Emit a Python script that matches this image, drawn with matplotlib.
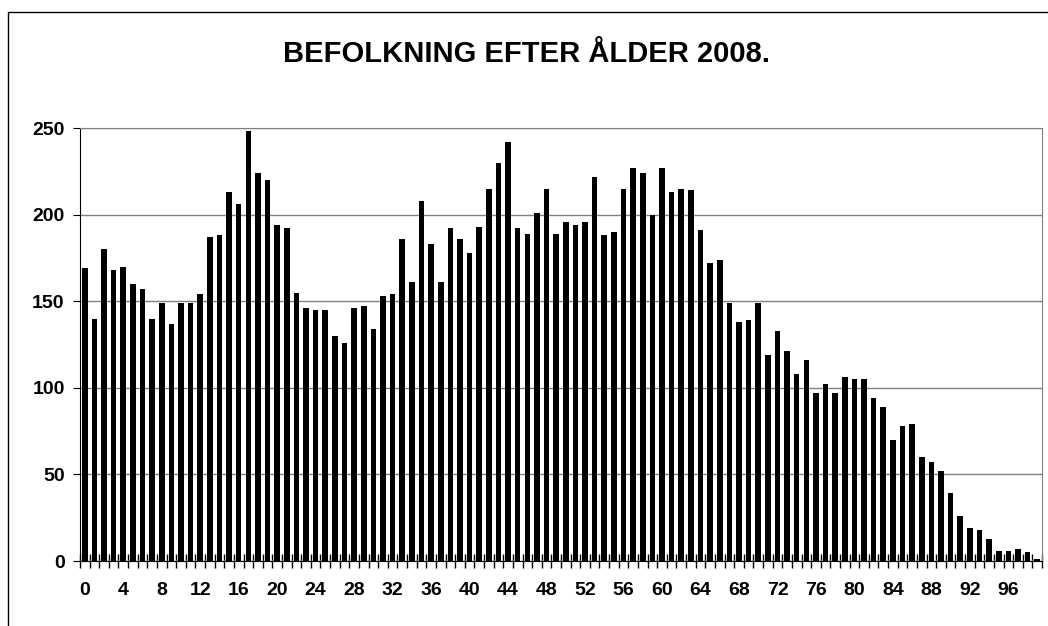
import numpy as np
import matplotlib.pyplot as plt
from matplotlib.patches import Rectangle

# population per age 0..99
ages = list(range(100))
population = [
    169, 140, 180, 168, 170, 160, 157, 140, 149, 137,
    149, 149, 154, 187, 188, 213, 206, 248, 224, 220,
    194, 192, 155, 146, 145, 145, 130, 126, 146, 147,
    134, 153, 154, 186, 161, 208, 183, 161, 192, 186,
    178, 193, 215, 230, 242, 192, 189, 201, 215, 189,
    196, 194, 196, 222, 188, 190, 215, 227, 224, 200,
    227, 213, 215, 214, 191, 172, 174, 149, 138, 139,
    149, 119, 133, 121, 108, 116, 97, 102, 97, 106,
    105, 105, 94, 89, 70, 78, 79, 60, 57, 52,
    39, 26, 19, 18, 13, 6, 6, 7, 5, 1,
]
label_ages = list(range(0, 100, 4))
y_ticks = [0, 50, 100, 150, 200, 250]
title = "BEFOLKNING EFTER ÅLDER 2008."

plt.rcParams['font.family'] = ['Liberation Sans', 'DejaVu Sans']

fig = plt.figure(figsize=(10.48, 6.26), dpi=100)
ax = fig.add_axes([0.0763, 0.1038, 0.918, 0.6917])

ax.bar(ages, population, width=0.58, color='black', zorder=3)

ax.set_xlim(-0.5, 99.5)
ax.set_ylim(0, 250)
ax.set_yticks(y_ticks)
ax.yaxis.grid(True, color='#808080', linewidth=1)
ax.set_axisbelow(True)

# category boundary ticks and centred labels
ax.set_xticks(np.arange(101) - 0.5, minor=True)
ax.set_xticks(label_ages)
ax.tick_params(axis='x', which='major', length=0, pad=15)
ax.tick_params(axis='x', which='minor', direction='inout', length=10, width=1)
ax.tick_params(axis='y', direction='out', length=5, pad=6)

for lbl in ax.get_xticklabels() + ax.get_yticklabels():
    lbl.set_fontweight('bold')
    lbl.set_fontsize(14)

for side in ['top', 'right']:
    ax.spines[side].set_color('#808080')
ax.spines['left'].set_color('black')
ax.spines['bottom'].set_color('black')

fig.text(0.502, 0.913, title, ha='center', va='center',
         fontsize=21, fontweight='bold')

# outer chart frame
fig.add_artist(Rectangle((8 / 1048, -0.05), 1.2, 1.05 - 12 / 626,
                         transform=fig.transFigure, fill=False,
                         edgecolor='black', linewidth=1))

fig.savefig('out.png', dpi=100)
